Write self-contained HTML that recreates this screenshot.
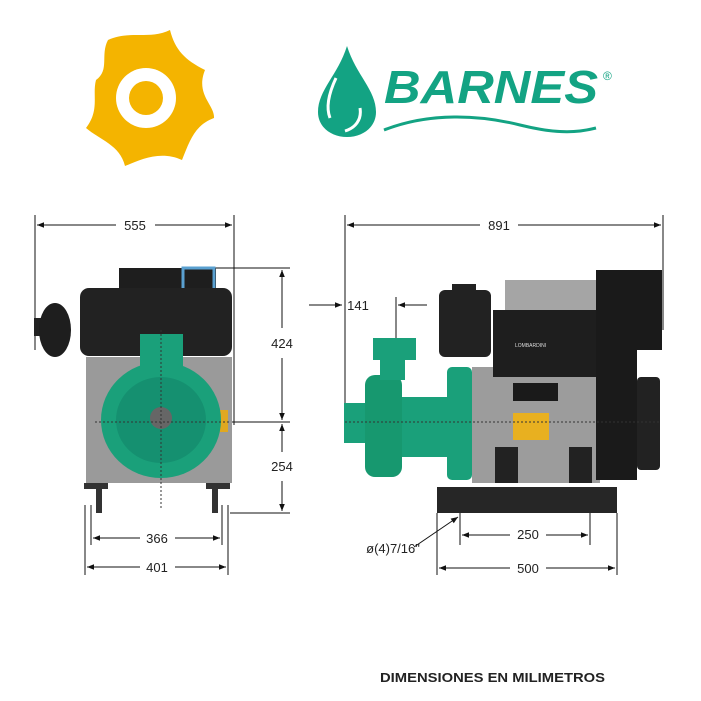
<!DOCTYPE html>
<html><head><meta charset="utf-8"><style>html,body{margin:0;padding:0;background:#fff}svg{display:block}</style></head>
<body>
<svg width="701" height="701" viewBox="0 0 701 701" xmlns="http://www.w3.org/2000/svg" font-family="Liberation Sans, sans-serif">
<defs>
<marker id="a" viewBox="0 0 10 10" refX="10" refY="5" markerWidth="9" markerHeight="7" orient="auto-start-reverse"><path d="M0,1 L10,5 L0,9 z" fill="#111"/></marker>
</defs>
<path d="M108,40 C130,30 150,40 170,30 C175,50 185,60 205,70 C195,95 215,105 214,118 C195,125 190,140 182,160 C160,150 140,160 125,166 C120,145 100,140 86,128 C100,110 92,95 96,80 C110,70 100,55 108,40 Z" fill="#f4b400"/>
<circle cx="146" cy="98" r="30" fill="#fff"/>
<circle cx="146" cy="98" r="17" fill="#f4b400"/>
<path d="M347,46 C338,75 318,90 318,112 C318,127 331,137 347,137 C363,137 376,127 376,112 C376,90 356,75 347,46 Z" fill="#13a383"/>
<path d="M336,78 C328,95 326,108 330,118" stroke="#fff" stroke-width="3" fill="none"/>
<path d="M360,108 C362,120 355,128 345,131" stroke="#fff" stroke-width="3" fill="none"/>
<text x="384" y="103" font-size="46" font-weight="bold" font-style="italic" fill="#13a383" textLength="214" lengthAdjust="spacingAndGlyphs">BARNES</text>
<text x="603" y="80" font-size="12" fill="#13a383">®</text>
<path d="M384,130 C430,112 480,115 520,125 C560,135 580,132 596,128" stroke="#13a383" stroke-width="3" fill="none"/>
<g stroke="#111" stroke-width="1" fill="none">
<line x1="35" y1="215" x2="35" y2="350"/><line x1="234" y1="215" x2="234" y2="425"/>
<line x1="37" y1="225" x2="116" y2="225" marker-start="url(#a)"/><line x1="155" y1="225" x2="232" y2="225" marker-end="url(#a)"/>
<line x1="183" y1="268" x2="290" y2="268"/><line x1="200" y1="422" x2="290" y2="422"/><line x1="230" y1="513" x2="290" y2="513"/>
<line x1="282" y1="270" x2="282" y2="328" marker-start="url(#a)"/><line x1="282" y1="358" x2="282" y2="420" marker-end="url(#a)"/>
<line x1="282" y1="424" x2="282" y2="452" marker-start="url(#a)"/><line x1="282" y1="481" x2="282" y2="511" marker-end="url(#a)"/>
<line x1="91" y1="505" x2="91" y2="545"/><line x1="222" y1="505" x2="222" y2="545"/>
<line x1="85" y1="505" x2="85" y2="575"/><line x1="228" y1="505" x2="228" y2="575"/>
<line x1="93" y1="538" x2="140" y2="538" marker-start="url(#a)"/><line x1="175" y1="538" x2="220" y2="538" marker-end="url(#a)"/>
<line x1="87" y1="567" x2="140" y2="567" marker-start="url(#a)"/><line x1="175" y1="567" x2="226" y2="567" marker-end="url(#a)"/>
<line x1="345" y1="215" x2="345" y2="410"/><line x1="663" y1="215" x2="663" y2="330"/>
<line x1="347" y1="225" x2="480" y2="225" marker-start="url(#a)"/><line x1="518" y1="225" x2="661" y2="225" marker-end="url(#a)"/>
<line x1="309" y1="305" x2="342" y2="305" marker-end="url(#a)"/><line x1="427" y1="305" x2="398" y2="305" marker-end="url(#a)"/>
<line x1="396" y1="297" x2="396" y2="467"/>
<line x1="460" y1="513" x2="460" y2="545"/><line x1="590" y1="513" x2="590" y2="545"/>
<line x1="437" y1="513" x2="437" y2="575"/><line x1="617" y1="513" x2="617" y2="575"/>
<line x1="462" y1="535" x2="510" y2="535" marker-start="url(#a)"/><line x1="546" y1="535" x2="588" y2="535" marker-end="url(#a)"/>
<line x1="439" y1="568" x2="510" y2="568" marker-start="url(#a)"/><line x1="546" y1="568" x2="615" y2="568" marker-end="url(#a)"/>
<line x1="414" y1="547" x2="458" y2="517" marker-end="url(#a)"/>
</g>
<rect x="119" y="268" width="97" height="30" fill="#1e1e1e"/>
<rect x="183" y="268" width="31" height="30" fill="none" stroke="#5aa0d0" stroke-width="3"/>
<rect x="86" y="357" width="146" height="126" fill="#9a9a9a"/>
<rect x="80" y="288" width="152" height="68" rx="9" fill="#222"/>
<rect x="34" y="318" width="16" height="18" fill="#222"/>
<ellipse cx="55" cy="330" rx="16" ry="27" fill="#1e1e1e"/>
<rect x="140" y="334" width="43" height="32" fill="#1aa07a"/>
<rect x="84" y="483" width="24" height="6" fill="#333"/><rect x="96" y="483" width="6" height="30" fill="#333"/>
<rect x="206" y="483" width="24" height="6" fill="#333"/><rect x="212" y="483" width="6" height="30" fill="#333"/>
<rect x="218" y="410" width="10" height="22" fill="#e0a820"/>
<ellipse cx="161" cy="420" rx="60" ry="58" fill="#1aa07a"/>
<ellipse cx="161" cy="420" rx="45" ry="43" fill="#159070"/>
<circle cx="161" cy="418" r="11" fill="#666"/>
<line x1="161" y1="330" x2="161" y2="510" stroke="#333" stroke-dasharray="2,2"/>
<line x1="95" y1="422" x2="230" y2="422" stroke="#333" stroke-dasharray="2,2"/>
<rect x="505" y="280" width="103" height="32" fill="#a5a5a5"/>
<rect x="472" y="367" width="128" height="116" fill="#9c9c9c"/>
<rect x="439" y="290" width="52" height="67" rx="6" fill="#222"/>
<rect x="452" y="284" width="24" height="10" fill="#222"/>
<rect x="493" y="310" width="103" height="67" fill="#1e1e1e"/>
<text x="515" y="347" font-size="5" fill="#ddd">LOMBARDINI</text>
<rect x="596" y="270" width="66" height="80" fill="#1a1a1a"/>
<rect x="596" y="350" width="41" height="130" fill="#1a1a1a"/>
<rect x="637" y="377" width="23" height="93" rx="4" fill="#222"/>
<rect x="513" y="383" width="45" height="18" fill="#1a1a1a"/>
<rect x="513" y="413" width="36" height="27" fill="#e8b020"/>
<rect x="495" y="447" width="23" height="36" fill="#222"/><rect x="569" y="447" width="23" height="36" fill="#222"/>
<rect x="437" y="487" width="180" height="26" fill="#262626"/>
<rect x="402" y="397" width="45" height="60" fill="#1aa07a"/>
<rect x="447" y="367" width="25" height="113" rx="5" fill="#1aa07a"/>
<rect x="344" y="403" width="29" height="40" fill="#1aa07a"/>
<rect x="365" y="375" width="37" height="102" rx="10" fill="#17986f"/>
<rect x="380" y="355" width="25" height="25" fill="#1aa07a"/>
<rect x="373" y="338" width="43" height="22" fill="#1aa07a"/>
<line x1="345" y1="422" x2="660" y2="422" stroke="#333" stroke-dasharray="2,2"/>
<g font-size="13" fill="#222" text-anchor="middle">
<text x="135" y="230">555</text><text x="499" y="230">891</text>
<text x="282" y="348">424</text><text x="282" y="471">254</text>
<text x="157" y="543">366</text><text x="157" y="572">401</text>
<text x="358" y="310">141</text><text x="528" y="539">250</text><text x="528" y="573">500</text>
<text x="393" y="553">ø(4)7/16"</text>
</g>
<text x="380" y="682" font-size="13" font-weight="bold" fill="#222" textLength="225" lengthAdjust="spacingAndGlyphs">DIMENSIONES EN MILIMETROS</text>
</svg>
</body></html>
